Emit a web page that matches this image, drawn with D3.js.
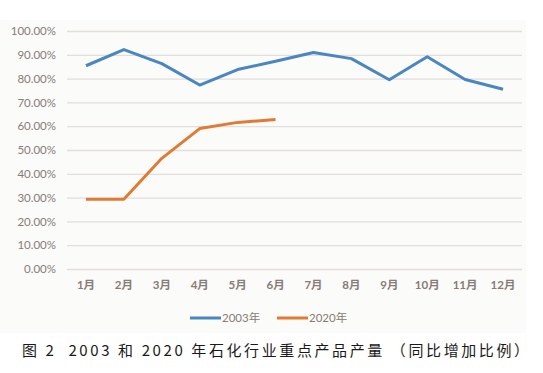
<!DOCTYPE html>
<html>
<head>
<meta charset="utf-8">
<script src="https://cdn.jsdelivr.net/npm/d3@7"></script>
<style>
  body { margin: 0; background: #fff; }
  svg text { font-family: Lato, "Noto Sans CJK SC", sans-serif; }
</style>
</head>
<body>
<div id="wrapper"></div>
<script>
// DATA
const months = [`1月`, `2月`, `3月`, `4月`, `5月`, `6月`, `7月`, `8月`, `9月`, `10月`, `11月`, `12月`];
const values2003 = [85.4, 92.2, 86.3, 77.3, 83.8, 87.3, 91.0, 88.4, 79.5, 89.2, 79.6, 75.5];
const values2020 = [29.3, 29.3, 46.5, 59.0, 61.6, 62.8];
const yTicks = [0, 10, 20, 30, 40, 50, 60, 70, 80, 90, 100];
const seriesNames = [`2003年`, `2020年`];
const caption = `图 2  2003 和 2020 年石化行业重点产品产量 （同比增加比例）`;

// LAYOUT
const W = 543;
const H = 373;
const margin = { top: 31, right: 21, bottom: 104, left: 67 };
const width = W - margin.left - margin.right;
const height = H - margin.top - margin.bottom;
const colors = [`#4a86c0`, `#e07b35`];
const axisColor = `#877c77`;

const root = d3.select(`#wrapper`)
  .append(`svg`)
  .attr(`width`, W)
  .attr(`height`, H);

// panel background
root.append(`rect`)
  .attr(`x`, 0)
  .attr(`y`, 20)
  .attr(`width`, 526)
  .attr(`height`, 313)
  .attr(`fill`, `#fbfbfa`);

const svg = root.append(`g`)
  .attr(`transform`, `translate(${margin.left}, ${margin.top})`);

// SCALES
const xScale = d3.scaleBand()
  .domain(months)
  .range([0, width]);

const yScale = d3.scaleLinear()
  .domain([0, 100])
  .range([height, 0]);

const xPos = (d, i) => xScale(months[i]) + xScale.bandwidth() / 2;

// AXIS
const yAxis = d3.axisLeft(yScale)
  .tickValues(yTicks)
  .tickSize(-width)
  .tickFormat(d => d3.format(`.2f`)(d) + `%`);

svg.append(`g`)
  .call(yAxis)
  .call(g => g.select(`.domain`).remove())
  .call(g => g.selectAll(`.tick line`).attr(`stroke`, `#e2dedb`).attr(`stroke-width`, 1.3))
  .call(g => g.selectAll(`.tick text`)
    .attr(`x`, -11)
    .attr(`fill`, axisColor)
    .attr(`font-size`, `11.5px`)
    .style(`font-family`, `Lato, sans-serif`));

svg.append(`g`)
  .attr(`transform`, `translate(0, ${height})`)
  .call(d3.axisBottom(xScale).tickSize(0))
  .call(g => g.select(`.domain`).remove())
  .call(g => g.selectAll(`.tick text`)
    .attr(`dy`, `1.45em`)
    .attr(`fill`, axisColor)
    .attr(`font-size`, `11.5px`)
    .attr(`font-weight`, `bold`));

// LINES
const line = d3.line()
  .x(xPos)
  .y(d => yScale(d));

[values2003, values2020].forEach((series, i) => {
  svg.append(`path`)
    .datum(series)
    .attr(`fill`, `none`)
    .attr(`stroke`, colors[i])
    .attr(`stroke-width`, 3)
    .attr(`stroke-linejoin`, `round`)
    .attr(`d`, line);
});

// LEGEND
const legend = root.append(`g`)
  .attr(`transform`, `translate(190, 318)`);

seriesNames.forEach((name, i) => {
  const item = legend.append(`g`)
    .attr(`transform`, `translate(${i * 87}, 0)`);
  item.append(`line`)
    .attr(`x1`, 0)
    .attr(`x2`, 31)
    .attr(`stroke`, colors[i])
    .attr(`stroke-width`, 3);
  item.append(`text`)
    .attr(`x`, 32)
    .attr(`dy`, `0.36em`)
    .attr(`fill`, axisColor)
    .attr(`font-size`, `11.5px`)
    .text(name);
});

// CAPTION
root.append(`text`)
  .attr(`x`, 22)
  .attr(`y`, 356)
  .attr(`fill`, `#1a1a1a`)
  .attr(`font-size`, `15px`)
  .attr(`letter-spacing`, `2.6px`)
  .attr(`xml:space`, `preserve`)
  .style(`font-family`, `"Noto Sans CJK SC", sans-serif`)
  .text(caption);
</script>
</body>
</html>
